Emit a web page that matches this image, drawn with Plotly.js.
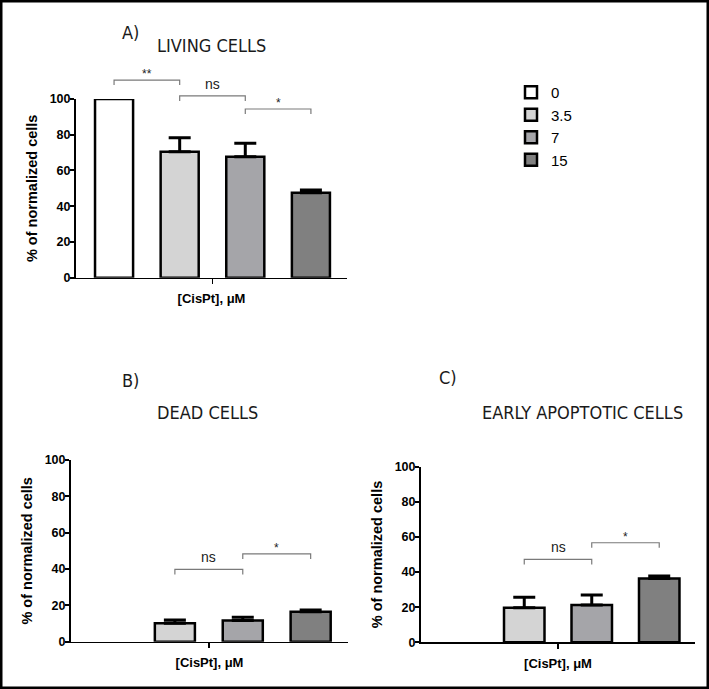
<!DOCTYPE html>
<html>
<head>
<meta charset="utf-8">
<script src="https://cdn.plot.ly/plotly-3.0.1.min.js"></script>
<style>
html,body{margin:0;padding:0;background:#fff;}
#chart{width:709px;height:689px;}
</style>
</head>
<body>
<div id="chart"></div>
<script>
// ---------------- data ----------------
const concentrations = ['0', '3.5', '7', '15'];
const barColors = ['#ffffff', '#d4d4d4', '#a5a5a9', '#808080'];

const panelLetters = ['A)', 'B)', 'C)'];
const panelTitles = ['LIVING CELLS', 'DEAD CELLS', 'EARLY APOPTOTIC CELLS'];

const livingMean = [100, 70.5, 67.7, 47.6];
const livingErr  = [0, 7.8, 7.5, 1.5];
const deadMean   = [0, 10.1, 11.6, 16.5];
const deadErr    = [0, 1.8, 1.8, 0.9];
const earlyMean  = [0, 19.7, 21.2, 36.4];
const earlyErr   = [0, 5.9, 5.7, 1.3];

// significance brackets: [from bar, to bar], level (% units), label
const livingPairs  = [[0, 1], [1, 2], [2, 3]];
const livingLevels = [110.6, 101.7, 94.4];
const livingLabels = ['**', 'ns', '*'];
const deadPairs    = [[1, 2], [2, 3]];
const deadLevels   = [39.8, 48.3];
const deadLabels   = ['ns', '*'];
const earlyPairs   = [[1, 2], [2, 3]];
const earlyLevels  = [47.2, 56.7];
const earlyLabels  = ['ns', '*'];

const yTicks = [0, 20, 40, 60, 80, 100];
const xTitle = '[CisPt], \u03bcM';
const yTitle = '% of normalized cells';

// ---------------- layout geometry (pixels) ----------------
const W = 709, H = 689;
const fx = p => p / W;
const fy = p => 1 - p / H;

const panels = [
  {mean: livingMean, err: livingErr, pairs: livingPairs, levels: livingLevels, labels: livingLabels,
   px: [76, 347], py: [99, 277.7], extTop: 50, xr: [-0.58, 3.55], bw: 0.58,
   letterPos: [130, 32], titlePos: [212, 45]},
  {mean: deadMean, err: deadErr, pairs: deadPairs, levels: deadLevels, labels: deadLabels,
   px: [71, 348], py: [460, 641.7], extTop: 440, xr: [-0.53, 3.55], bw: 0.59,
   letterPos: [130, 380], titlePos: [207, 412]},
  {mean: earlyMean, err: earlyErr, pairs: earlyPairs, levels: earlyLevels, labels: earlyLabels,
   px: [421, 695], py: [466.7, 642.3], extTop: 440, xr: [-0.53, 3.53], bw: 0.6,
   letterPos: [448, 378], titlePos: [582, 412]}
];

const tickFont = {family: 'Liberation Sans, Arial, sans-serif', size: 12.5, color: '#000', weight: 'bold'};
const titleFont = {family: 'DejaVu Sans Condensed, DejaVu Sans, sans-serif', size: 18, color: '#1a1a1a'};

const traces = [];
const layout = {
  width: W, height: H,
  margin: {l: 0, r: 0, t: 0, b: 0},
  paper_bgcolor: '#fff', plot_bgcolor: 'rgba(0,0,0,0)',
  barmode: 'overlay',
  showlegend: true,
  legend: {x: fx(511), y: fy(76), xanchor: 'left', yanchor: 'top',
           font: {family: 'Liberation Sans, Arial, sans-serif', size: 15, color: '#000'},
           bgcolor: 'rgba(0,0,0,0)', traceorder: 'normal', tracegroupgap: 0},
  annotations: [],
  shapes: [{type: 'rect', xref: 'paper', yref: 'paper', x0: 0, x1: 1, y0: 0, y1: 1,
            line: {color: '#000', width: 5}, fillcolor: 'rgba(0,0,0,0)'}]
};

panels.forEach((p, k) => {
  const xa = 'x' + (k === 0 ? '' : k + 1);
  const ya = 'y' + (k === 0 ? '' : k + 1);
  const yExt = 'y' + (k + 4);
  const xKey = 'xaxis' + (k === 0 ? '' : k + 1);
  const yKey = 'yaxis' + (k === 0 ? '' : k + 1);
  const pxPerUnit = (p.py[1] - p.py[0]) / 100;

  layout[xKey] = {
    domain: [fx(p.px[0]), fx(p.px[1])], anchor: ya, range: p.xr,
    tickvals: [1.5], ticktext: [''], ticks: 'outside', ticklen: 5, tickwidth: 1.5, tickcolor: '#000',
    showline: true, linecolor: '#000', linewidth: 1.5, showgrid: false, zeroline: false,
    fixedrange: true,
    title: {text: xTitle, font: {family: 'Liberation Sans, Arial, sans-serif', size: 13, color: '#000', weight: 'bold'}, standoff: 8}
  };
  layout[yKey] = {
    domain: [fy(p.py[1]), fy(p.py[0])], anchor: xa, range: [0, 100],
    tickvals: yTicks, ticks: 'outside', ticklen: 4, tickwidth: 2, tickcolor: '#000',
    ticklabelstandoff: -3,
    showline: true, linecolor: '#000', linewidth: 2, showgrid: false, zeroline: false,
    tickfont: tickFont, fixedrange: true,
    title: {text: yTitle, font: {family: 'Liberation Sans, Arial, sans-serif', size: 14.5, color: '#000', weight: 'bold'}, standoff: 9}
  };
  // extended invisible axis with same scale, for the significance brackets above the plot
  const extTopVal = (p.py[1] - p.extTop) / pxPerUnit;
  layout['yaxis' + (k + 4)] = {
    domain: [fy(p.py[1]), fy(p.extTop)], anchor: xa, range: [0, extTopVal],
    visible: false, fixedrange: true
  };

  concentrations.forEach((c, i) => {
    const hasBar = p.mean[i] > 0;
    traces.push({
      type: 'bar', x: [i], y: [p.mean[i]], width: p.bw, xaxis: xa, yaxis: ya,
      name: c, legendgroup: c, showlegend: k === 0, cliponaxis: false,
      marker: {color: barColors[i], line: {color: '#000', width: hasBar ? 2.5 : 0}},
      error_y: {type: 'data', symmetric: false, array: [p.err[i]], arrayminus: [0],
                color: '#000', thickness: 3, width: 11, visible: hasBar && p.err[i] > 0},
      hoverinfo: 'skip'
    });
  });

  // brackets
  const drop = 5 / pxPerUnit;
  const bx = [], by = [];
  p.pairs.forEach((pr, j) => {
    const lv = p.levels[j];
    bx.push(pr[0], pr[0], pr[1], pr[1], null);
    by.push(lv - drop, lv, lv, lv - drop, null);
    const isNs = p.labels[j] === 'ns';
    layout.annotations.push({
      xref: xa, yref: yExt, x: (pr[0] + pr[1]) / 2, y: lv,
      text: p.labels[j], showarrow: false, xanchor: 'center', yanchor: 'middle',
      yshift: isNs ? 12 : 6,
      font: {family: 'Liberation Sans, Arial, sans-serif', size: isNs ? 14 : 12, color: '#222'}
    });
  });
  traces.push({type: 'scatter', mode: 'lines', x: bx, y: by, xaxis: xa, yaxis: yExt,
               line: {color: '#7a7a7a', width: 1.2}, showlegend: false, hoverinfo: 'skip', connectgaps: false});

  layout.annotations.push({xref: 'paper', yref: 'paper', x: fx(p.letterPos[0]), y: fy(p.letterPos[1]),
    text: panelLetters[k], showarrow: false, xanchor: 'center', yanchor: 'middle', font: titleFont});
  layout.annotations.push({xref: 'paper', yref: 'paper', x: fx(p.titlePos[0]), y: fy(p.titlePos[1]),
    text: panelTitles[k], showarrow: false, xanchor: 'center', yanchor: 'middle', font: titleFont});
});

Plotly.newPlot('chart', traces, layout, {staticPlot: true, displayModeBar: false});
</script>
</body>
</html>
